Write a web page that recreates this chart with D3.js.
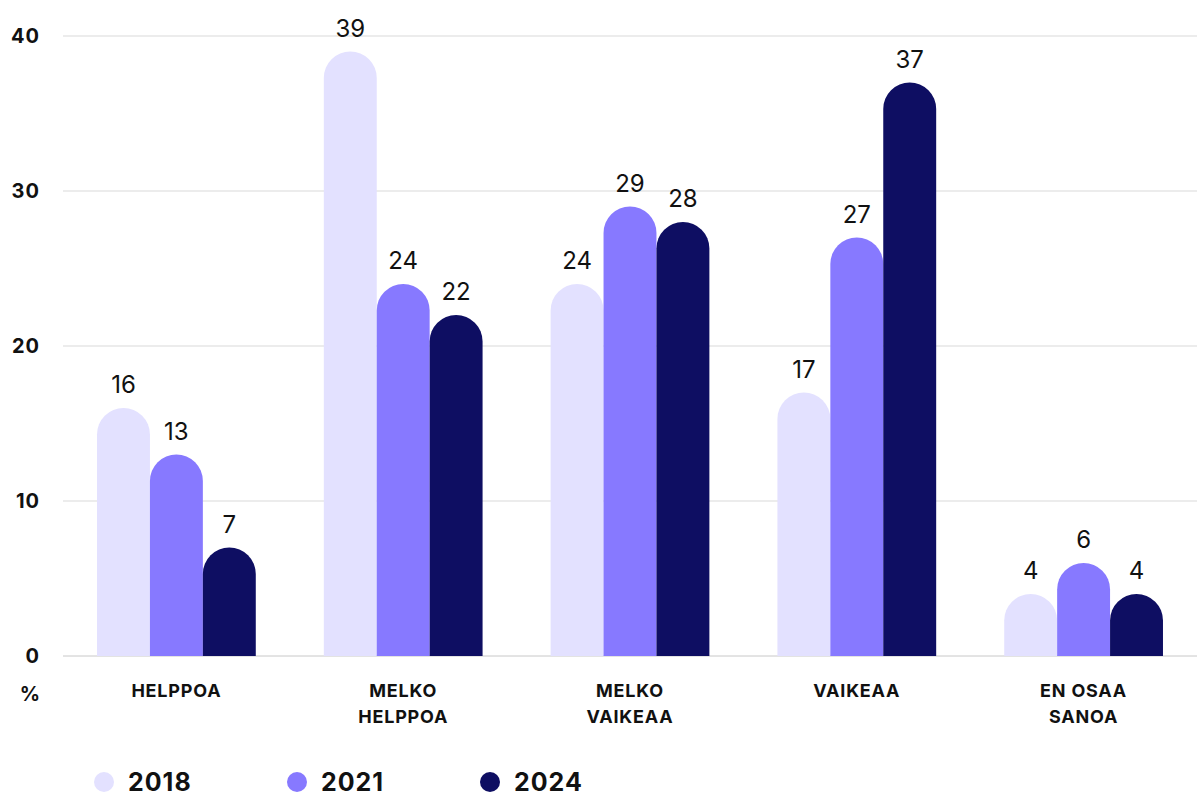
<!DOCTYPE html>
<html>
<head>
<meta charset="utf-8">
<script src="https://cdn.jsdelivr.net/npm/d3@7"></script>
<style>
	body { margin: 0; background: #fff; }
	svg { display: block; font-family: Inter, "Noto Sans", sans-serif; }
</style>
</head>
<body>
<svg width="1203" height="793"></svg>
<script>
var categories = [['HELPPOA'], ['MELKO', 'HELPPOA'], ['MELKO', 'VAIKEAA'], ['VAIKEAA'], ['EN OSAA', 'SANOA']],
	years = ['2018', '2021', '2024'],
	v2018 = [16, 39, 24, 17, 4],
	v2021 = [13, 24, 29, 27, 6],
	v2024 = [7, 22, 28, 37, 4],
	yTicks = [0, 10, 20, 30, 40],
	colors = ['#e3e1ff', '#8779ff', '#0e0e62'];

var series = [v2018, v2021, v2024];

var svg = d3.select('svg'),
	mLeft = 63, mRight = 1197, mTop = 36, mBottom = 656;

var x = d3.scaleBand().domain(d3.range(categories.length)).range([mLeft, mRight]).paddingInner(0.3).paddingOuter(0.15);
var xi = d3.scaleBand().domain(d3.range(years.length)).range([0, x.bandwidth()]);
var y = d3.scaleLinear().domain([0, 40]).range([mBottom, mTop]);

// grid
svg.append('g').selectAll('line').data(yTicks).join('line')
	.attr('x1', mLeft).attr('x2', mRight)
	.attr('y1', function (d) { return y(d); }).attr('y2', function (d) { return y(d); })
	.attr('stroke', function (d) { return d === 0 ? '#c8c8c8' : '#d9d9d9'; }).attr('stroke-width', 1);

svg.append('g').selectAll('text').data(yTicks).join('text')
	.attr('x', 40).attr('y', function (d) { return y(d) + 7; })
	.attr('text-anchor', 'end').attr('font-size', 20).attr('font-weight', 700)
	.attr('letter-spacing', 1).attr('fill', '#111')
	.text(function (d) { return d; });

svg.append('text').attr('x', 40).attr('y', 701).attr('text-anchor', 'end')
	.attr('font-size', 20).attr('font-weight', 700).attr('fill', '#111').text('%');

// bars with rounded tops
var bw = xi.bandwidth(), r = bw / 2;
series.forEach(function (vals, si) {
	var g = svg.append('g');
	g.selectAll('path').data(vals).join('path')
		.attr('fill', colors[si])
		.attr('d', function (d, i) {
			var x0 = x(i) + xi(si), yt = y(d);
			return 'M' + x0 + ',' + mBottom + 'V' + (yt + r) +
				'A' + r + ',' + r + ' 0 0 1 ' + (x0 + bw) + ',' + (yt + r) +
				'V' + mBottom + 'Z';
		});
	g.selectAll('text').data(vals).join('text')
		.attr('x', function (d, i) { return x(i) + xi(si) + bw / 2; })
		.attr('y', function (d) { return y(d) - 15; })
		.attr('text-anchor', 'middle').attr('font-size', 24).attr('fill', '#111')
		.text(function (d) { return d; });
});

// category labels
svg.append('g').selectAll('text').data(categories).join('text')
	.attr('text-anchor', 'middle').attr('font-size', 18).attr('font-weight', 700)
	.attr('letter-spacing', 0.8).attr('fill', '#111')
	.each(function (d, i) {
		d3.select(this).selectAll('tspan').data(d).join('tspan')
			.attr('x', x(i) + x.bandwidth() / 2)
			.attr('y', function (t, j) { return 697 + j * 26; })
			.text(function (t) { return t; });
	});

// legend
var lg = svg.append('g').selectAll('g').data(years).join('g')
	.attr('transform', function (d, i) { return 'translate(' + (104 + i * 193) + ',782)'; });
lg.append('circle').attr('r', 10).attr('fill', function (d, i) { return colors[i]; });
lg.append('text').attr('x', 24).attr('y', 9).attr('font-size', 25).attr('font-weight', 700)
	.attr('letter-spacing', 1).attr('fill', '#111')
	.text(function (d) { return d; });
</script>
</body>
</html>
